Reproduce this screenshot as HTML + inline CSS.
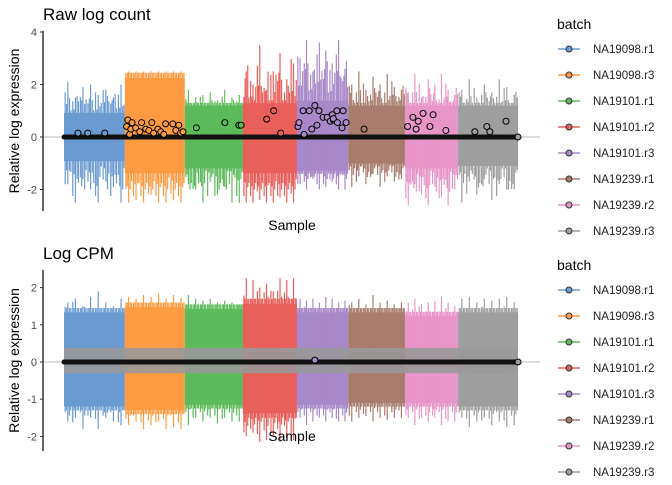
<!DOCTYPE html>
<html><head><meta charset="utf-8"><style>
body{margin:0;background:#fff;width:672px;height:480px;overflow:hidden;font-family:"Liberation Sans",sans-serif}
svg text{font-family:"Liberation Sans",sans-serif}
</style></head><body>
<svg id="c" width="672" height="480" viewBox="0 0 672 480"></svg>
<script>
const batches=["NA19098.r1","NA19098.r3","NA19101.r1","NA19101.r2","NA19101.r3","NA19239.r1","NA19239.r2","NA19239.r3"];
const colors=["#6a9bd1","#fd9b42","#5dbb5b","#e9605a","#a889c9","#a97c6e","#e895c8","#9e9e9e"];
const groupStart=[0,0.134,0.266,0.394,0.513,0.626,0.751,0.868];
const rawBandHi=[1.0,2.45,1.3,1.4,1.5,1.3,1.3,1.3];
const rawBandLo=[-1.0,-1.5,-1.3,-1.5,-1.4,-1.1,-1.3,-1.2];
const rawSpikeHi=[[2.1,1.5,1.9,2.0,1.6,1.8,1.5,2.0],[2.5,2.5,2.5,2.5,2.5,2.5,2.5,2.5],[1.8,1.5,1.6,1.7,1.4,1.8,1.5,1.6],[2.5,2.0,3.5,1.8,2.5,3.2,2.2,2.8],[3.0,3.7,2.5,3.6,3.3,2.8,3.7,2.6],[2.0,2.5,1.8,2.3,2.0,2.4,1.9,1.8],[1.7,2.4,1.5,2.2,2.0,2.4,1.8,1.6],[1.8,2.2,1.5,2.0,1.7,2.2,1.9,1.6]];
const rawSpikeLo=[[-2.5,-1.8,-2.5,-1.6,-2.0,-2.5,-1.7,-1.9],[-2.5,-2.5,-2.4,-2.5,-2.2,-2.5,-2.5,-2.4],[-2.5,-1.8,-2.0,-2.5,-1.7,-2.2,-1.9,-2.5],[-2.5,-2.5,-2.5,-2.4,-2.5,-2.5,-2.3,-2.5],[-2.0,-1.8,-2.0,-1.6,-2.0,-1.9,-1.7,-2.0],[-1.6,-1.9,-1.5,-1.8,-1.4,-1.9,-1.5,-1.7],[-2.0,-2.6,-1.8,-2.2,-2.6,-1.9,-2.3,-2.6],[-2.0,-2.5,-1.7,-2.2,-1.6,-2.4,-1.8,-2.0]];
const rawOutX=[0.23,0.39,0.67,
1.03,1.05,1.08,1.1,1.12,1.18,1.25,1.28,1.35,1.4,1.45,1.48,1.55,1.6,1.65,1.68,1.8,1.85,1.9,1.93,1.97,
2.2,2.69,2.93,2.97,
3.44,3.57,3.7,
4.02,4.04,4.12,4.14,4.24,4.29,4.35,4.39,4.43,4.51,4.59,4.65,4.69,4.71,4.71,4.78,4.79,4.88,4.9,4.96,
5.28,
6.05,6.15,6.21,6.25,6.34,6.47,6.53,6.77,
7.28,7.48,7.53,7.8];
const rawOutY=[0.15,0.15,0.15,
0.4,0.65,0.1,0.3,0.55,0.35,0.2,0.55,0.3,0.25,0.55,0.15,0.3,0.2,0.1,0.5,0.5,0.25,0.45,0.15,0.2,
0.35,0.55,0.45,0.45,
0.68,1.0,0.15,
0.4,0.55,1.0,0.1,1.0,0.3,1.2,0.45,1.0,0.75,0.75,0.6,0.85,0.65,0.7,1.0,0.55,0.35,1.0,0.55,
0.3,
0.4,0.75,0.3,0.6,0.9,0.4,0.85,0.25,
0.2,0.4,0.2,0.6];
const cpmBandHi=[1.45,1.6,1.55,1.7,1.45,1.45,1.35,1.45];
const cpmBandLo=[-1.3,-1.4,-1.25,-1.5,-1.25,-1.2,-1.2,-1.3];
const cpmSpikeHi=[[1.6,1.7,1.5,1.75,1.9,1.6,1.5,1.7],[1.75,1.7,1.8,1.75,1.85,1.7,1.8,1.72],[1.8,1.7,1.65,1.7,1.6,1.65,1.6,1.55],[2.25,2.2,2.0,2.1,1.9,2.25,2.2,2.25],[1.7,1.65,1.7,1.6,1.75,1.7,1.6,1.65],[1.6,1.7,1.55,1.8,1.6,1.65,1.55,1.6],[1.6,1.7,1.55,1.6,1.65,1.75,1.6,1.5],[1.7,1.75,1.6,1.7,1.65,1.7,1.75,1.6]];
const cpmSpikeLo=[[-1.7,-1.6,-1.5,-1.8,-1.5,-1.8,-1.5,-1.6],[-1.8,-1.7,-1.6,-1.8,-1.7,-1.6,-1.8,-1.75],[-1.6,-1.7,-1.5,-1.6,-1.5,-1.65,-1.5,-1.6],[-2.1,-2.0,-1.9,-2.15,-2.1,-2.0,-2.15,-2.05],[-1.6,-1.5,-1.7,-1.6,-1.5,-1.6,-1.5,-1.6],[-1.5,-1.6,-1.5,-1.45,-1.6,-1.5,-1.55,-1.5],[-1.6,-1.5,-1.7,-1.5,-1.6,-1.5,-1.7,-1.6],[-1.7,-1.5,-1.75,-1.6,-1.5,-1.7,-1.6,-1.75]];
const cpmBoxHi=0.38, cpmBoxLo=-0.3;
const rawTicks=[-2,0,2,4], cpmTicks=[-2,-1,0,1,2];

const svg=document.getElementById('c');
const NS="http://www.w3.org/2000/svg";
function mk(t,a,p){const e=document.createElementNS(NS,t);for(const k in a)e.setAttribute(k,a[k]);(p||svg).appendChild(e);return e;}
const X0=64,X1=518;
function gx(g,f){const s=groupStart[g],e=g<7?groupStart[g+1]:1;return X0+(s+(e-s)*f)*(X1-X0);}
function panel(p){
  const y=v=>p.y0-v*p.k;
  const g=mk('g',{});
  
  
  for(let b=0;b<8;b++){
    const r=mk('rect',{x:gx(b,0),y:y(p.hi[b]*0.92),width:gx(b,1)-gx(b,0),height:y(p.lo[b]*0.92)-y(p.hi[b]*0.92),fill:colors[b]},g);
    
    
    const n=p.sh[b].length;
    const offs=[[0.5,1,1,0],[0.15,0.85,0.9,3],[0.33,0.7,0.75,5],[0.72,0.78,0.8,2],[0.9,0.68,0.7,6]];
    offs.forEach(o=>{
      for(let i=0;i<n;i++){
        const xx=gx(b,(i+o[0])/n);
        const hv=Math.max(p.sh[b][(i+o[3])%n]*o[1],p.hi[b]);
        const lv=Math.min(p.sl[b][(i+o[3]+1)%n]*o[2],p.lo[b]);
        const l=mk('line',{x1:xx,x2:xx,y1:y(hv),y2:y(lv),stroke:colors[b],'stroke-width':1.2},g);
        
        
      }
    });
  }
  if(p.boxHi!==undefined){
    const r=mk('rect',{x:X0,y:y(p.boxHi),width:X1-X0,height:y(p.boxLo)-y(p.boxHi),fill:'#999','fill-opacity':0.9},g);
    
    
  }
  const h=mk('line',{x1:43,x2:540,y1:y(0),y2:y(0),stroke:'#bbb','stroke-width':1},g);
  
  
  const m=mk('line',{x1:X0,x2:X1,y1:y(0),y2:y(0),stroke:'#111','stroke-width':5,'stroke-linecap':'round'},g);
  
  
  (p.ox||[]).forEach((ov,i)=>{
    const b=Math.min(7,Math.floor(ov)),f=ov-b;
    const c=mk('circle',{cx:gx(b,f),cy:y(p.oy[i]),r:3,fill:colors[b],stroke:'#000','stroke-width':1},g);
    
    
  });
  const c=mk('circle',{cx:X1,cy:y(0),r:3,fill:'#9e9e9e',stroke:'#000'},g);
  const ax=mk('line',{x1:43,x2:43,y1:p.a0,y2:p.a1,stroke:'#333','stroke-width':1.5});
  
  
  p.ticks.forEach(t=>{
    mk('line',{x1:40,x2:43,y1:y(t),y2:y(t),stroke:'#333'});
    const tx=mk('text',{x:37,y:y(t)+4,'text-anchor':'end','font-size':11,fill:'#4d4d4d'});
    tx.textContent=t;
    
    
  });
  const ti=mk('text',{x:43,y:p.ty,'font-size':17,fill:'#000'});ti.textContent=p.title;
  
  const yt=mk('text',{x:0,y:0,'font-size':14,'text-anchor':'middle',transform:`translate(19,${(p.a0+p.a1)/2}) rotate(-90)`});yt.textContent='Relative log expression';
  
  const xt=mk('text',{x:292,y:p.xy,'font-size':14,'text-anchor':'middle'});xt.textContent='Sample';
  
  const lt=mk('text',{x:557,y:p.ly,'font-size':14});lt.textContent='batch';
  
  batches.forEach((bn,i)=>{
    const yy=p.ly+20+i*26;
    const lg=mk('g',{});
    
    
    mk('line',{x1:558,x2:580,y1:yy,y2:yy,stroke:colors[i],'stroke-width':1.5},lg);
    mk('circle',{cx:569,cy:yy,r:3,fill:colors[i],stroke:'#333'},lg);
    const t=mk('text',{x:593,y:yy+4,'font-size':11.5,fill:'#222'},lg);t.textContent=bn;
  });
}
panel({name:'raw-panel',y0:137,k:26.25,hi:rawBandHi,lo:rawBandLo,sh:rawSpikeHi,sl:rawSpikeLo,ox:rawOutX,oy:rawOutY,ticks:rawTicks,a0:31,a1:211,ty:20,title:'Raw log count',xy:230,ly:29});
panel({name:'cpm-panel',y0:362,k:37.2,hi:cpmBandHi,lo:cpmBandLo,sh:cpmSpikeHi,sl:cpmSpikeLo,boxHi:cpmBoxHi,boxLo:cpmBoxLo,ox:[4.35],oy:[0.05],ticks:cpmTicks,a0:270,a1:451,ty:259,title:'Log CPM',xy:441,ly:270});
</script>
</body></html>
